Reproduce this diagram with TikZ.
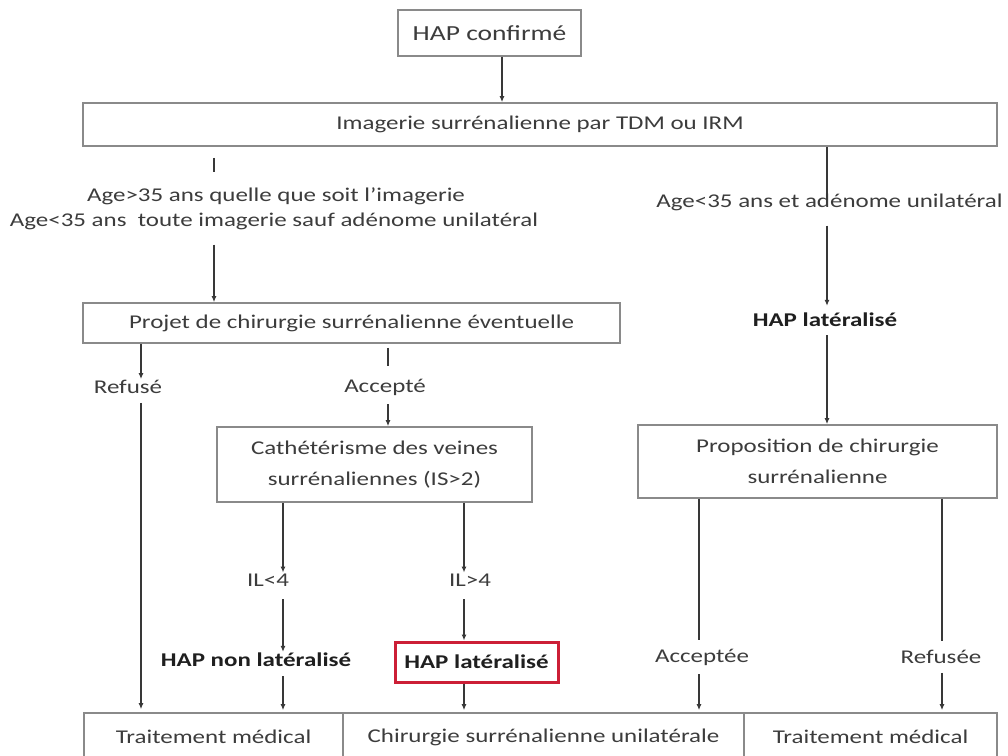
\documentclass[tikz,border=0pt]{standalone}
\usepackage{fontspec}
\setmainfont[FakeStretch=1.28]{Carlito}
\usetikzlibrary{arrows.meta}
\definecolor{txtc}{HTML}{3C3C3C}
\definecolor{boxc}{HTML}{8A8A8A}
\definecolor{lnc}{HTML}{383838}
\definecolor{redc}{HTML}{CC1F36}
\newcommand\myfn{\fontsize{19.5pt}{24pt}\selectfont}
\newcommand\myfw{\fontsize{19.5pt}{31pt}\selectfont}
\newcommand\myfb{\fontsize{21.5pt}{26pt}\selectfont}
\tikzset{
  box/.style={draw=boxc, line width=1.6pt, inner sep=0pt, align=center, text=txtc, font=\myfn},
  boxw/.style={box, font=\myfw},
  lbl/.style={inner sep=1pt, text=txtc, font=\myfn},
  blbl/.style={inner sep=1pt, text=black!88, font=\myfn\bfseries},
  ln/.style={draw=lnc, line width=1.2pt},
  arr/.style={ln, -{Latex[length=6pt,width=5pt]}},
}
\begin{document}
\begin{tikzpicture}[x=1pt,y=-1pt]
\useasboundingbox (0,0) rectangle (1008,755);
\fill[white] (0,0) rectangle (1008,755);
% x positions of the vertical connectors
\coordinate (xA) at (502,0);
\coordinate (xL) at (214,0);
\coordinate (xR) at (827,0);
\coordinate (xRf) at (141,0);
\coordinate (xAc) at (388,0);
\coordinate (xI1) at (283,0);
\coordinate (xI2) at (464,0);
\coordinate (xAc2) at (699,0);
\coordinate (xRe2) at (942,0);
% nodes
\node[box, minimum width=183, minimum height=46, font=\myfb] (conf) at (489.5,33) {HAP confirmé};
\node[box, minimum width=914, minimum height=43] (img) at (540,124.5) {Imagerie surrénalienne par TDM ou IRM};
\node[lbl] (age1) at (276,196) {Age>35 ans quelle que soit l’imagerie};
\node[lbl] (age2) at (274,221) {Age<35 ans\ \ toute imagerie sauf adénome unilatéral};
\node[lbl] (ageR) at (829.5,202) {Age<35 ans et adénome unilatéral};
\node[blbl] (latR) at (825,320) {HAP latéralisé};
\node[box, minimum width=537, minimum height=40] (projet) at (351.5,323) {Projet de chirurgie surrénalienne éventuelle};
\node[lbl] (refuse) at (128,387) {Refusé};
\node[lbl] (accepte) at (385,387) {Accepté};
\node[boxw, minimum width=315, minimum height=75] (cath) at (374.5,464.5) {Cathétérisme des veines\\surrénaliennes (IS>2)};
\node[boxw, minimum width=359, minimum height=73] (prop) at (817.5,461.5) {Proposition de chirurgie\\surrénalienne};
\node[lbl] (il1) at (268,580) {IL<4};
\node[lbl] (il2) at (470,580) {IL>4};
\node[blbl] (nonlat) at (256,660) {HAP non latéralisé};
\node[blbl, draw=redc, line width=3pt, minimum width=163, minimum height=40] (lat) at (476.5,662) {HAP latéralisé};
\node[lbl] (acc2) at (702,657) {Acceptée};
\node[lbl] (ref2) at (941,657) {Refusée};
\node[box, minimum width=259, minimum height=48] (t1) at (213.5,737) {Traitement médical};
\node[box, minimum width=401, minimum height=48] (chir) at (543.5,737) {Chirurgie surrénalienne unilatérale};
\node[box, minimum width=253, minimum height=48] (t2) at (870.5,737) {Traitement médical};
% connectors
\draw[arr] (conf.south -| xA) -- (img.north -| xA);
\draw[ln, shorten <=11pt, shorten >=14pt] (img.south -| xL) -- (age1.north -| xL);
\draw[arr, shorten <=14pt] (age2.south -| xL) -- (projet.north -| xL);
\draw[ln, shorten >=-8pt] (img.south -| xR) -- (ageR.north -| xR);
\draw[arr, shorten <=14pt, shorten >=6pt] (ageR.south -| xR) -- (latR.north -| xR);
\draw[arr, shorten <=7pt] (latR.south -| xR) -- (prop.north -| xR);
\draw[arr] (projet.south -| xRf) -- (refuse.north -| xRf);
\draw[arr, shorten <=8pt, shorten >=3pt] (refuse.south -| xRf) -- (t1.north -| xRf);
\draw[ln, shorten <=4pt, shorten >=12pt] (projet.south -| xAc) -- (accepte.north -| xAc);
\draw[arr, shorten <=8pt] (accepte.south -| xAc) -- (cath.north -| xAc);
\draw[arr] (cath.south -| xI1) -- (il1.north -| xI1);
\draw[arr, shorten <=12pt] (il1.south -| xI1) -- (nonlat.north -| xI1);
\draw[arr, shorten <=8pt, shorten >=2pt] (nonlat.south -| xI1) -- (t1.north -| xI1);
\draw[arr] (cath.south -| xI2) -- (il2.north -| xI2);
\draw[arr, shorten <=12pt] (il2.south -| xI2) -- (lat.north -| xI2);
\draw[arr, shorten >=2pt] (lat.south -| xI2) -- (chir.north -| xI2);
\draw[ln, shorten >=8pt] (prop.south -| xAc2) -- (acc2.north -| xAc2);
\draw[arr, shorten <=8pt, shorten >=2pt] (acc2.south -| xAc2) -- (chir.north -| xAc2);
\draw[ln, shorten >=8pt] (prop.south -| xRe2) -- (ref2.north -| xRe2);
\draw[arr, shorten <=8pt, shorten >=2pt] (ref2.south -| xRe2) -- (t2.north -| xRe2);
\end{tikzpicture}
\end{document}
